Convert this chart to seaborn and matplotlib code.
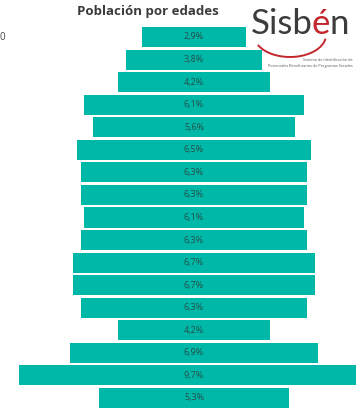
"""
Population by age group (Sisbén), drawn as centred horizontal bars.
"""

import numpy as np
import pandas as pd
import seaborn as sns
import matplotlib.pyplot as plt
from matplotlib.patches import Arc

# age groups, top of the chart first
age_groups = ["80+", "75-79", "70-74", "65-69", "60-64", "55-59", "50-54",
              "45-49", "40-44", "35-39", "30-34", "25-29", "20-24",
              "15-19", "10-14", "5-9", "0-4"]
shares = [2.9, 3.8, 4.2, 6.1, 5.6, 6.5, 6.3, 6.3, 6.1, 6.3, 6.7, 6.7, 6.3,
          4.2, 6.9, 9.7, 5.3]
share_labels = [f"{v:.1f}%".replace(".", ",") for v in shares]

TEAL = "#00b8a8"
RED = "#c4262e"


def logo(fig):
    """Rough Sisbén logo: word, red swoosh and the small subtitle."""
    y = 1 - 24 / 409
    x = 251 / 356
    fig.canvas.draw()
    r = fig.canvas.get_renderer()
    for part, col in [("Sisb", "#3c3c3c"), ("é", RED), ("n", "#3c3c3c")]:
        t = fig.text(x, y, part, ha="left", va="center", fontsize=25,
                     color=col, fontfamily="Lato")
        bb = t.get_window_extent(renderer=r)
        x = (bb.x1 - 1) / fig.bbox.width
    arc = Arc((290 / 356, 1 - 35 / 409), 72 / 356, 44 / 409,
              theta1=195, theta2=355, transform=fig.transFigure,
              color=RED, lw=1.4)
    fig.add_artist(arc)
    fig.text(353 / 356, 1 - 60 / 409, "Sistema de identificación de",
             ha="right", va="center", fontsize=2.7, color="#555555")
    fig.text(353 / 356, 1 - 66 / 409,
             "Potenciales Beneficiarios de Programas Sociales",
             ha="right", va="center", fontsize=2.7, color="#555555")


def main():
    sns.set_theme(style="white")
    plt.rcParams["font.family"] = ["Open Sans", "DejaVu Sans"]

    df = pd.DataFrame({"edad": age_groups, "pct": shares})
    df["right"] = df["pct"] / 2
    df["left"] = -df["pct"] / 2

    fig = plt.figure(figsize=(3.56, 4.09), dpi=100)
    ax = fig.add_axes([0, 0, 1, 1])

    # two halves make one bar centred on zero
    for col in ["right", "left"]:
        sns.barplot(data=df, x=col, y="edad", order=age_groups, orient="h",
                    color=TEAL, saturation=1, width=0.89, linewidth=0, ax=ax)

    for i, lab in enumerate(share_labels):
        ax.text(0, i, lab, ha="center", va="center", fontsize=6.5,
                color="#24504a")

    ax.set_xlim(-5.39, 4.5)
    ax.set_ylim(16.49, -1.64)
    ax.set_axis_off()

    fig.text(148 / 356, 1 - 12 / 409, "Población por edades",
             ha="center", va="center", fontsize=9.5, fontweight="bold",
             color="#3b3b3b")
    fig.text(0.0, 1 - 37 / 409, "0", ha="left", va="center", fontsize=7,
             color="#444444")

    logo(fig)
    fig.savefig("out.png", dpi=100)


if __name__ == "__main__":
    main()
